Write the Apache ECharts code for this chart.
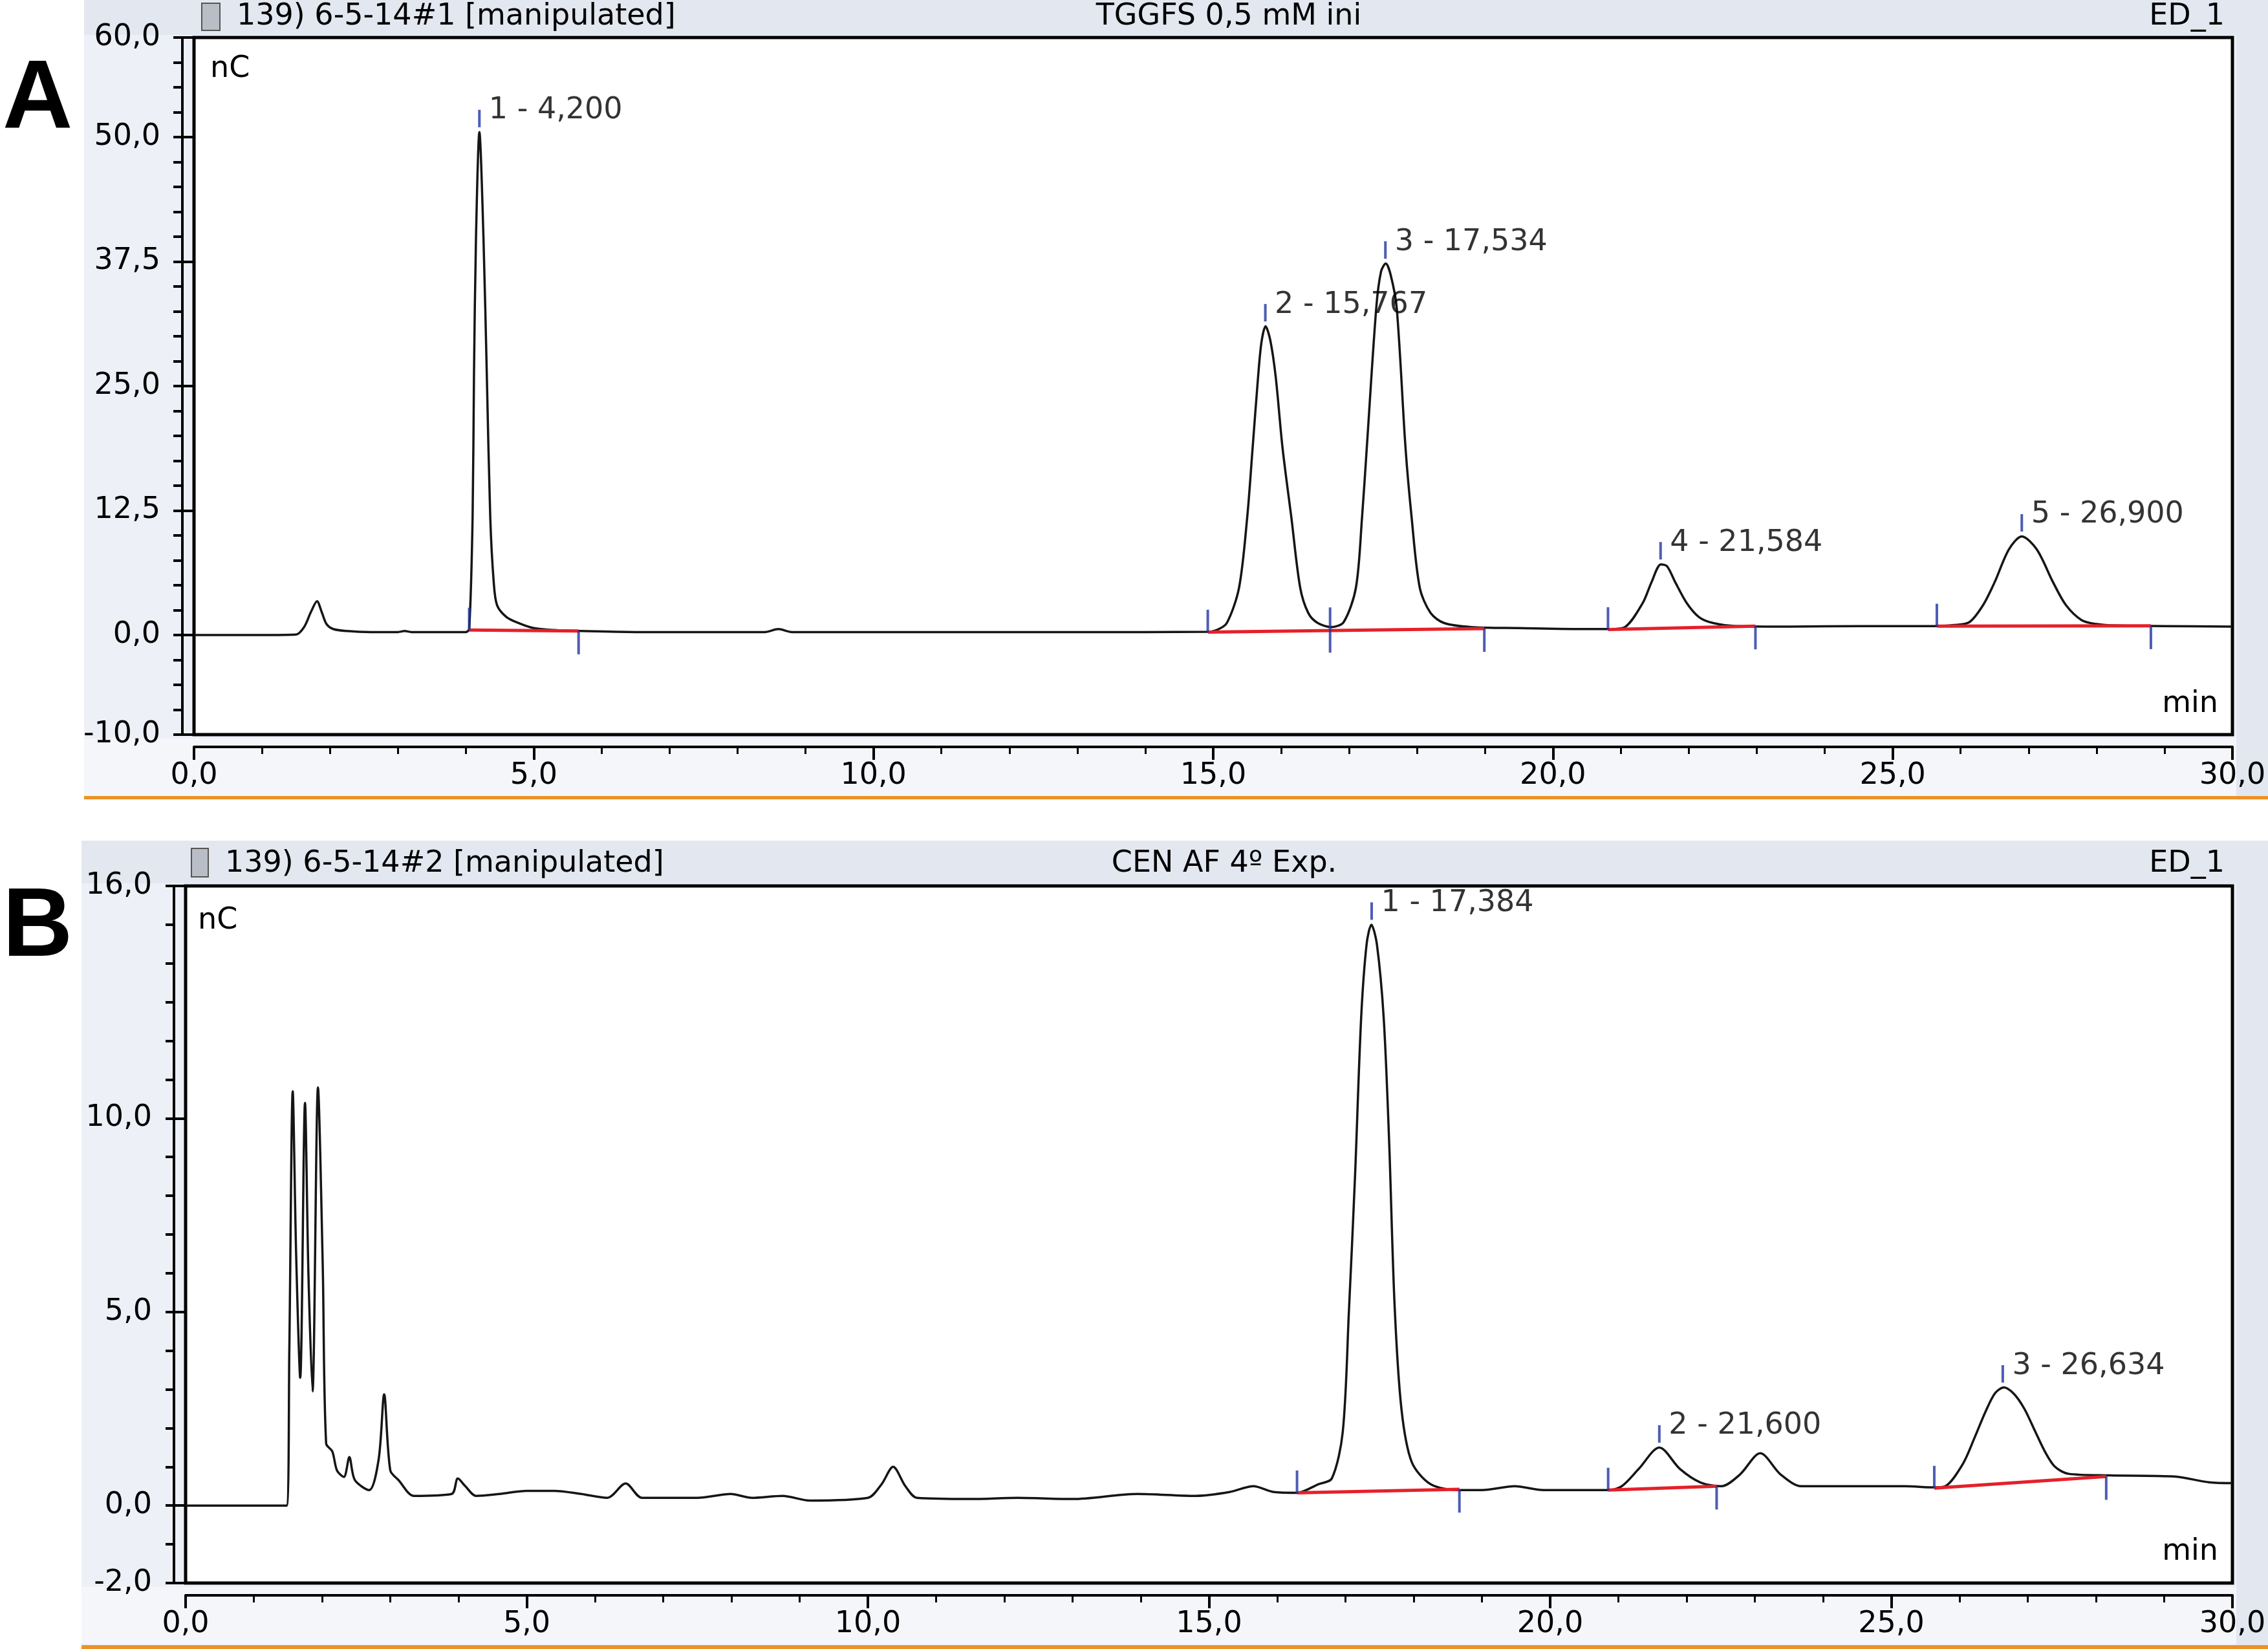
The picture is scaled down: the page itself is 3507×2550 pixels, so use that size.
<!DOCTYPE html>
<html><head><meta charset="utf-8">
<script src="https://cdn.jsdelivr.net/npm/echarts@6/dist/echarts.min.js"></script>
<style>html,body{margin:0;padding:0;background:#fff}#c{width:3507px;height:2550px}</style>
</head><body><div id="c"></div>
<script>
// ---------------- DATA: panel A (TGGFS 0,5 mM ini) ----------------
const timeA = [0.00,1.00,1.50,1.62,1.72,1.81,1.88,1.95,2.05,2.25,2.60,3.00,3.10,3.20,3.60,4.00,4.05,4.10,4.12,4.15,4.20,4.26,4.31,4.36,4.41,4.46,4.60,4.78,5.00,5.30,5.70,6.50,7.50,8.40,8.60,8.80,10.00,12.00,14.00,14.90,15.05,15.20,15.38,15.50,15.58,15.66,15.71,15.77,15.84,15.92,16.02,16.15,16.28,16.40,16.54,16.74,16.92,17.10,17.19,17.26,17.40,17.47,17.54,17.61,17.70,17.83,17.92,18.04,18.20,18.40,18.80,19.50,20.50,20.85,21.06,21.32,21.45,21.59,21.68,21.80,21.97,22.15,22.36,22.70,23.50,24.50,25.60,25.90,26.13,26.33,26.50,26.71,26.90,27.12,27.36,27.55,27.78,28.00,28.30,29.00,30.00];
const signalA = [0.00,0.00,0.05,0.8,2.3,3.4,2.3,1.1,0.6,0.4,0.3,0.3,0.4,0.3,0.3,0.3,0.6,11.8,25.9,39.9,50.5,39.9,25.9,11.8,5.4,3.0,1.8,1.2,0.7,0.5,0.4,0.3,0.3,0.3,0.6,0.3,0.3,0.3,0.3,0.32,0.5,1.2,4.75,11.8,18.8,25.9,29.4,31.0,29.6,25.9,18.8,11.8,4.75,2.2,1.2,0.8,1.3,4.75,11.8,18.8,32.9,36.5,37.3,36.2,32.9,18.8,11.8,4.75,2.2,1.2,0.8,0.7,0.6,0.6,0.8,3.2,5.3,7.1,6.9,5.3,3.2,1.8,1.2,0.9,0.85,0.9,0.9,1.0,1.3,3.0,5.3,8.6,9.9,8.6,5.3,3.0,1.5,1.1,0.95,0.9,0.85];
const peakNumA = [1,2,3,4,5];
const peakRtA = [4.200,15.767,17.534,21.584,26.900];
const peakHA = [50.5,31.0,37.3,7.1,9.9];
const intStartA = [4.05,14.92,20.81,25.65];
const intStartBaseA = [0.5,0.3,0.55,0.9];
const intEndA = [5.66,18.99,22.98,28.80];
const intEndBaseA = [0.4,0.65,0.9,0.92];
const valleyA = [16.72];
const valleyBaseA = [0.5];
const yLabelsA = [60,50,37.5,25,12.5,0,-10];

// ---------------- DATA: panel B (CEN AF 4º Exp.) ----------------
const timeB = [0.00,1.00,1.48,1.52,1.57,1.62,1.68,1.75,1.80,1.86,1.94,2.01,2.06,2.15,2.22,2.32,2.40,2.48,2.69,2.83,2.91,3.00,3.12,3.35,3.90,3.99,4.10,4.26,4.60,5.00,5.40,5.80,6.18,6.45,6.69,7.50,7.99,8.30,8.75,9.15,10.00,10.20,10.37,10.55,10.72,11.50,12.20,13.00,13.95,14.80,15.30,15.65,15.95,16.29,16.60,16.80,16.96,17.05,17.14,17.23,17.31,17.38,17.46,17.56,17.64,17.72,17.82,17.97,18.25,18.67,19.00,19.48,19.90,20.50,20.85,21.05,21.30,21.60,21.90,22.20,22.51,22.78,23.08,23.38,23.68,24.50,25.20,25.63,25.79,26.05,26.22,26.38,26.52,26.65,26.80,26.95,27.10,27.25,27.40,27.60,28.20,29.15,29.66,30.00];
const signalB = [0.00,0.00,0.00,4.0,10.7,6.5,3.3,10.4,6.0,2.95,10.8,6.2,1.6,1.4,0.9,0.74,1.25,0.66,0.4,1.2,2.87,0.91,0.66,0.25,0.3,0.7,0.5,0.25,0.3,0.38,0.38,0.3,0.2,0.57,0.2,0.2,0.3,0.2,0.25,0.13,0.2,0.55,1.0,0.5,0.2,0.17,0.2,0.17,0.3,0.25,0.35,0.5,0.35,0.33,0.55,0.7,1.9,5.0,8.5,12.6,14.5,15.0,14.5,12.6,9.4,5.17,2.5,1.13,0.55,0.4,0.4,0.5,0.4,0.4,0.4,0.5,0.95,1.5,0.95,0.6,0.5,0.8,1.35,0.8,0.5,0.5,0.5,0.47,0.5,1.08,1.75,2.42,2.9,3.05,2.88,2.5,1.95,1.4,1.0,0.82,0.78,0.75,0.6,0.58];
const peakNumB = [1,2,3];
const peakRtB = [17.384,21.600,26.634];
const peakHB = [15.0,1.5,3.05];
const intStartB = [16.29,20.85,25.63];
const intStartBaseB = [0.33,0.4,0.45];
const intEndB = [18.67,22.44,28.15];
const intEndBaseB = [0.42,0.5,0.75];
const valleyB = [];
const valleyBaseB = [];
const yLabelsB = [16,10,5,0,-2];

// ---------------- helpers ----------------
const FONT = "'DejaVu Sans', sans-serif";
const TXT = '#000';
const BLUE = '#1f35a0';
const RED = '#e5202a';
const fmt1 = v => v.toFixed(1).replace('.', ',');
const fmt3 = v => v.toFixed(3).replace('.', ',');
const zip = (a, b) => a.map((x, i) => [x, b[i]]);

function panelSeries(xi, yi, time, signal, st, stB, en, enB, va, vaB, num, rt, h) {
  const s = [];
  s.push({type:'line', xAxisIndex:xi, yAxisIndex:yi, data: zip(time, signal), showSymbol:false, symbol:'none',
    smooth:0.3, lineStyle:{color:'#151515', width:3.5}, z:2, silent:true});
  st.forEach((t, i) => {
    s.push({type:'line', xAxisIndex:xi, yAxisIndex:yi, data:[[t, stB[i]],[en[i], enB[i]]], symbol:'none',
      lineStyle:{color:RED, width:5}, z:3, silent:true});
  });
  s.push({type:'scatter', xAxisIndex:xi, yAxisIndex:yi, data: zip(st, stB), symbol:'rect', symbolSize:[4,35],
    symbolOffset:[0,-17], itemStyle:{color:BLUE}, z:4, silent:true});
  s.push({type:'scatter', xAxisIndex:xi, yAxisIndex:yi, data: zip(en, enB), symbol:'rect', symbolSize:[4,36],
    symbolOffset:[0,18], itemStyle:{color:BLUE}, z:4, silent:true});
  if (va.length) s.push({type:'scatter', xAxisIndex:xi, yAxisIndex:yi, data: zip(va, vaB), symbol:'rect', symbolSize:[4,70],
    itemStyle:{color:BLUE}, z:4, silent:true});
  s.push({type:'scatter', xAxisIndex:xi, yAxisIndex:yi, data: zip(rt, h), symbol:'rect', symbolSize:[4,27],
    symbolOffset:[0,-21], itemStyle:{color:BLUE}, z:4, silent:true});
  s.push({type:'scatter', xAxisIndex:xi, yAxisIndex:yi, data: zip(rt, h), symbol:'circle', symbolSize:1,
    itemStyle:{color:'rgba(0,0,0,0)'}, z:5, silent:true,
    label:{show:true, position:'right', distance:0, offset:[14,-33], color:TXT, fontSize:46, fontFamily:FONT,
      formatter: p => num[p.dataIndex] + ' - ' + fmt3(rt[p.dataIndex])}});
  return s;
}

function xAxisCfg(gi) {
  return {gridIndex:gi, type:'value', min:0, max:30, interval:5, offset:19,
    axisLine:{show:true, onZero:false, lineStyle:{color:'#000', width:4}},
    axisTick:{show:true, length:20, lineStyle:{color:'#000', width:4}},
    minorTick:{show:true, splitNumber:5, length:11, lineStyle:{color:'#000', width:3}},
    axisLabel:{formatter:fmt1, fontSize:46, fontFamily:FONT, color:TXT, margin:22},
    splitLine:{show:false}, minorSplitLine:{show:false}};
}
function yAxisMain(gi, min, max, interval, labels, minorLen) {
  return {gridIndex:gi, type:'value', min:min, max:max, interval:interval, offset:18, position:'left',
    axisLine:{show:true, onZero:false, lineStyle:{color:'#000', width:4}},
    axisTick:{show:true, length:minorLen, lineStyle:{color:'#000', width:4}},
    axisLabel:{fontSize:46, fontFamily:FONT, color:TXT, margin:34,
      formatter: v => labels.some(l => Math.abs(l - v) < 1e-6) ? fmt1(v) : ''},
    splitLine:{show:false}};
}
function yAxisMajor(gi, min, max, labels, len) {
  return {gridIndex:gi, type:'value', min:min, max:max, offset:18, position:'left',
    axisLine:{show:false}, axisLabel:{show:false}, splitLine:{show:false},
    axisTick:{show:true, customValues:labels, length:len, lineStyle:{color:'#000', width:4}}};
}

function txt(text, x, y, align, font) {
  return {type:'text', z:100, style:{text:text, x:x, y:y, fill:TXT, font:font || ("46px " + FONT),
    textAlign:align, align:align, textVerticalAlign:'middle', verticalAlign:'middle'}};
}
function rect(x, y, w, h, fill, z) {
  return {type:'rect', z:(z === undefined ? -10 : z), silent:true, shape:{x:x, y:y, width:w, height:h}, style:{fill:fill}};
}

const graphic = [
  // panel A background (screen dither approximated)
  rect(130, 0, 3377, 1237, '#edf0f6', -12),
  rect(130, 0, 3377, 54, '#e3e7f0', -11),
  rect(3458, 0, 49, 1237, '#e3e7f0', -11),
  rect(130, 1142, 3328, 88, '#f5f6fa', -11),
  rect(130, 1231, 3377, 5, '#eb9225', -9),
  // panel B background
  rect(126, 1300, 3381, 1250, '#edf0f6', -12),
  rect(126, 1300, 3381, 66, '#e3e7f0', -11),
  rect(3458, 1300, 49, 1250, '#e3e7f0', -11),
  rect(126, 2454, 3332, 88, '#f5f6fa', -11),
  rect(126, 2544, 3381, 6, '#eb9225', -9),
  // icons
  {type:'rect', z:100, shape:{x:312, y:5, width:28, height:42}, style:{fill:'#b9bdc6', stroke:'#555', lineWidth:2}},
  {type:'rect', z:100, shape:{x:296, y:1312, width:26, height:44}, style:{fill:'#b9bdc6', stroke:'#555', lineWidth:2}},
  // panel letters
  txt('A', 4, 156, 'left', "bold 150px 'Liberation Sans', Arial, sans-serif"),
  txt('B', 4, 1437, 'left', "bold 150px 'Liberation Sans', Arial, sans-serif"),
  // title band texts
  txt('139) 6-5-14#1 [manipulated]', 366, 26, 'left'),
  txt('TGGFS 0,5 mM ini', 1900, 26, 'center'),
  txt('ED_1', 3440, 26, 'right'),
  txt('139) 6-5-14#2 [manipulated]', 348, 1336, 'left'),
  txt('CEN AF 4º Exp.', 1893, 1336, 'center'),
  txt('ED_1', 3440, 1336, 'right'),
  // unit labels
  txt('nC', 325, 107, 'left'),
  txt('min', 3430, 1089, 'right'),
  txt('nC', 306, 1424, 'left'),
  txt('min', 3430, 2400, 'right')
];

const option = {
  animation:false,
  backgroundColor:'#fff',
  grid:[
    {left:300, top:58, width:3152, height:1078, show:true, backgroundColor:'#fff', borderColor:'#000', borderWidth:5},
    {left:287, top:1370, width:3165, height:1078, show:true, backgroundColor:'#fff', borderColor:'#000', borderWidth:5}
  ],
  xAxis:[xAxisCfg(0), xAxisCfg(1)],
  yAxis:[
    yAxisMain(0, -10, 60, 2.5, yLabelsA, 14),
    yAxisMajor(0, -10, 60, yLabelsA, 24),
    yAxisMain(1, -2, 16, 1, yLabelsB, 13),
    yAxisMajor(1, -2, 16, yLabelsB, 20)
  ],
  series:[].concat(
    panelSeries(0, 0, timeA, signalA, intStartA, intStartBaseA, intEndA, intEndBaseA, valleyA, valleyBaseA, peakNumA, peakRtA, peakHA),
    panelSeries(1, 2, timeB, signalB, intStartB, intStartBaseB, intEndB, intEndBaseB, valleyB, valleyBaseB, peakNumB, peakRtB, peakHB)
  ),
  graphic:graphic
};

const chart = echarts.init(document.getElementById('c'), null, {renderer:'canvas', width:3507, height:2550});
chart.setOption(option);
</script>
</body></html>
